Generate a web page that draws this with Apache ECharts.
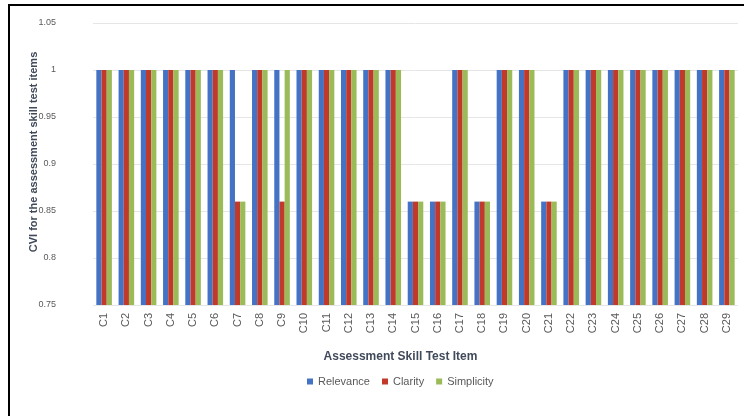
<!DOCTYPE html>
<html><head><meta charset="utf-8">
<script src="https://cdn.jsdelivr.net/npm/echarts@6/dist/echarts.min.js"></script>
<style>
html,body{margin:0;padding:0;background:#fff;}
#frame{position:absolute;left:8px;top:4px;width:800px;height:500px;border-left:2px solid #000;border-top:2px solid #000;}
#c{position:absolute;left:0;top:0;width:744px;height:416px;}
</style></head>
<body>
<div id="frame"></div>
<div id="c"></div>
<script>
const categories = ["C1","C2","C3","C4","C5","C6","C7","C8","C9","C10","C11","C12","C13","C14","C15","C16","C17","C18","C19","C20","C21","C22","C23","C24","C25","C26","C27","C28","C29"];
const relevance = [1,1,1,1,1,1,1,1,1,1,1,1,1,1,0.86,0.86,1,0.86,1,1,0.86,1,1,1,1,1,1,1,1];
const clarity =   [1,1,1,1,1,1,0.86,1,0.86,1,1,1,1,1,0.86,0.86,1,0.86,1,1,0.86,1,1,1,1,1,1,1,1];
const simplicity =[1,1,1,1,1,1,0.86,1,1,1,1,1,1,1,0.86,0.86,1,0.86,1,1,0.86,1,1,1,1,1,1,1,1];
const yTicks = [0.75,0.8,0.85,0.9,0.95,1,1.05];

const font = '"Liberation Sans Narrow","Liberation Sans",Arial,sans-serif';
const chart = echarts.init(document.getElementById('c'));
chart.setOption({
  animation:false,
  textStyle:{fontFamily:font},
  grid:{left:93,right:6,top:23,bottom:111,containLabel:false},
  legend:{
    data:['Relevance','Clarity','Simplicity'],
    bottom:24,left:302,
    itemWidth:6,itemHeight:6,itemGap:12,icon:'rect',
    textStyle:{fontFamily:font,fontSize:11,color:'#595959'}
  },
  xAxis:{
    type:'category',data:categories,
    name:'Assessment Skill Test Item',nameLocation:'middle',nameGap:46,
    nameTextStyle:{fontFamily:font,fontSize:12,fontWeight:'bold',color:'#404a5a',padding:[0,30,0,0]},
    axisLine:{show:false},axisTick:{show:false},
    axisLabel:{rotate:90,fontSize:11,color:'#595959',fontFamily:font,margin:8}
  },
  yAxis:{
    type:'value',min:0.75,max:1.05,interval:0.05,
    name:'CVI for the assessment skill test items',nameLocation:'middle',nameGap:54,
    nameMoveOverlap:false,
    nameTextStyle:{fontFamily:font,fontSize:11,fontWeight:'bold',color:'#404a5a',padding:[0,0,0,24]},
    axisLine:{show:false},axisTick:{show:false},
    axisLabel:{fontSize:9,color:'#595959',fontFamily:font,margin:37,
      formatter:function(v){const t=yTicks.find(x=>Math.abs(x-v)<1e-9);return t===undefined?'':String(t);}},
    splitLine:{lineStyle:{color:'#e6e6e6'}}
  },
  series:[
    {name:'Relevance',type:'bar',data:relevance,itemStyle:{color:'#4472C4'},barGap:'0%',barCategoryGap:'30%'},
    {name:'Clarity',type:'bar',data:clarity,itemStyle:{color:'#C0392B'}},
    {name:'Simplicity',type:'bar',data:simplicity,itemStyle:{color:'#9BBB59'}}
  ]
});
</script>
</body></html>
